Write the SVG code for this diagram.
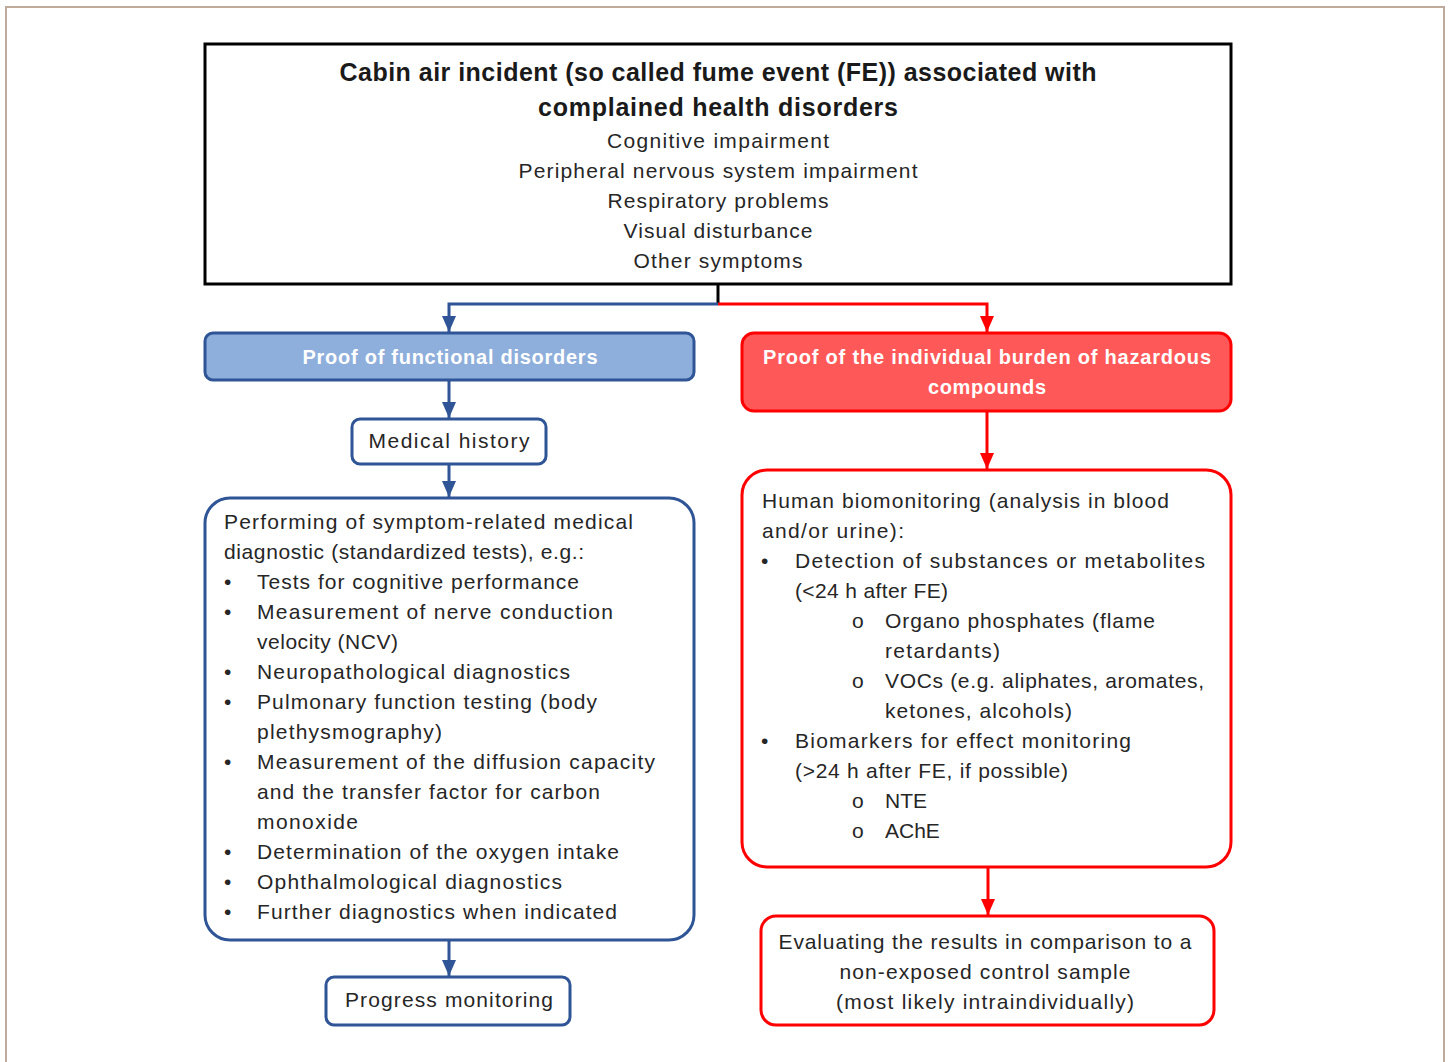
<svg xmlns="http://www.w3.org/2000/svg" width="1449" height="1062" viewBox="0 0 1449 1062">
<defs>
<style>
.t{font-family:"Liberation Sans",Arial,sans-serif;font-size:21px;fill:#262626}
.c{text-anchor:middle}
.b{font-weight:bold;font-size:25px;fill:#1a1a1a}
.w{fill:#ffffff;font-weight:bold;font-size:20px}
.blue{fill:none;stroke:#2f5597;stroke-width:3}
.red{fill:none;stroke:#ff0000;stroke-width:3}
</style>
<marker id="ab" markerUnits="userSpaceOnUse" markerWidth="16" markerHeight="14" refX="16" refY="7" orient="auto"><path d="M0,0 L16,7 L0,14 Z" fill="#2f5597"/></marker>
<marker id="ar" markerUnits="userSpaceOnUse" markerWidth="16" markerHeight="14" refX="16" refY="7" orient="auto"><path d="M0,0 L16,7 L0,14 Z" fill="#ff0000"/></marker>
</defs>
<rect width="1449" height="1062" fill="#ffffff"/>
<path d="M6,1062 V7 H1444 V1062" fill="none" stroke="#bfaa9c" stroke-width="2"/>

<g id="connectors">
<line x1="718" y1="284" x2="718" y2="304" stroke="#000" stroke-width="3"/>
<path class="blue" d="M718,304 H449 V332" marker-end="url(#ab)"/>
<path class="red" d="M718,304 H987 V332" marker-end="url(#ar)"/>
<path class="blue" d="M449,380 V418" marker-end="url(#ab)"/>
<path class="blue" d="M449,464 V497" marker-end="url(#ab)"/>
<path class="blue" d="M449,940 V976" marker-end="url(#ab)"/>
<path class="red" d="M987,411 V469" marker-end="url(#ar)"/>
<path class="red" d="M988,867 V915" marker-end="url(#ar)"/>
</g>

<g id="incident">
<rect x="205" y="44" width="1026" height="240" fill="#fff" stroke="#000" stroke-width="3"/>
<text class="t c b" x="718" y="81" textLength="757" lengthAdjust="spacing">Cabin air incident (so called fume event (FE)) associated with</text>
<text class="t c b" x="718" y="116" textLength="360" lengthAdjust="spacing">complained health disorders</text>
<text class="t c" x="718" y="148" textLength="222" lengthAdjust="spacing">Cognitive impairment</text>
<text class="t c" x="718" y="178" textLength="399" lengthAdjust="spacing">Peripheral nervous  system impairment</text>
<text class="t c" x="718" y="208" textLength="221" lengthAdjust="spacing">Respiratory problems</text>
<text class="t c" x="718" y="238" textLength="189" lengthAdjust="spacing">Visual disturbance</text>
<text class="t c" x="718" y="268" textLength="169" lengthAdjust="spacing">Other symptoms</text>
</g>

<g id="functional">
<rect x="205" y="333" width="489" height="47" rx="8" fill="#8eaedb" stroke="#2f5597" stroke-width="3"/>
<text class="t c w" x="450" y="364" textLength="295" lengthAdjust="spacing">Proof of functional  disorders</text>
</g>

<g id="burden">
<rect x="742" y="333" width="489" height="78" rx="12" fill="#ff5858" stroke="#ff0000" stroke-width="3"/>
<text class="t c w" x="987" y="364" textLength="448" lengthAdjust="spacing">Proof of the individual  burden of hazardous</text>
<text class="t c w" x="987" y="394" textLength="118" lengthAdjust="spacing">compounds</text>
</g>

<g id="medical-history">
<rect x="352" y="419" width="194" height="45" rx="8" fill="#fff" stroke="#2f5597" stroke-width="3"/>
<text class="t c" x="449" y="448" textLength="161" lengthAdjust="spacing">Medical history</text>
</g>

<g id="diagnostics">
<rect x="205" y="498" width="489" height="442" rx="25" fill="#fff" stroke="#2f5597" stroke-width="3"/>
<text class="t" x="224" y="529" textLength="409" lengthAdjust="spacing">Performing of symptom-related medical</text>
<text class="t" x="224" y="559" textLength="360" lengthAdjust="spacing">diagnostic (standardized tests), e.g.:</text>
<g class="t">
<text x="224" y="589">•</text><text x="224" y="619">•</text><text x="224" y="679">•</text><text x="224" y="709">•</text><text x="224" y="769">•</text><text x="224" y="859">•</text><text x="224" y="889">•</text><text x="224" y="919">•</text>
</g>
<text class="t" x="257" y="589" textLength="322" lengthAdjust="spacing">Tests for cognitive performance</text>
<text class="t" x="257" y="619" textLength="356" lengthAdjust="spacing">Measurement  of nerve conduction</text>
<text class="t" x="257" y="649" textLength="141" lengthAdjust="spacing">velocity (NCV)</text>
<text class="t" x="257" y="679" textLength="313" lengthAdjust="spacing">Neuropathological diagnostics</text>
<text class="t" x="257" y="709" textLength="340" lengthAdjust="spacing">Pulmonary function testing (body</text>
<text class="t" x="257" y="739" textLength="185" lengthAdjust="spacing">plethysmography)</text>
<text class="t" x="257" y="769" textLength="398" lengthAdjust="spacing">Measurement  of the diffusion capacity</text>
<text class="t" x="257" y="799" textLength="343" lengthAdjust="spacing">and the transfer factor for carbon</text>
<text class="t" x="257" y="829" textLength="101" lengthAdjust="spacing">monoxide</text>
<text class="t" x="257" y="859" textLength="362" lengthAdjust="spacing">Determination of the oxygen  intake</text>
<text class="t" x="257" y="889" textLength="305" lengthAdjust="spacing">Ophthalmological diagnostics</text>
<text class="t" x="257" y="919" textLength="360" lengthAdjust="spacing">Further  diagnostics when indicated</text>
</g>

<g id="progress">
<rect x="326" y="977" width="244" height="48" rx="8" fill="#fff" stroke="#2f5597" stroke-width="3"/>
<text class="t c" x="449" y="1007" textLength="208" lengthAdjust="spacing">Progress monitoring</text>
</g>

<g id="biomonitoring">
<rect x="742" y="470" width="489" height="397" rx="25" fill="#fff" stroke="#ff0000" stroke-width="3"/>
<text class="t" x="762" y="508" textLength="407" lengthAdjust="spacing">Human biomonitoring (analysis in blood</text>
<text class="t" x="762" y="538" textLength="142" lengthAdjust="spacing">and/or urine):</text>
<g class="t">
<text x="761" y="568">•</text><text x="761" y="748">•</text>
<text x="852" y="628">o</text><text x="852" y="688">o</text><text x="852" y="808">o</text><text x="852" y="838">o</text>
</g>
<text class="t" x="795" y="568" textLength="410" lengthAdjust="spacing">Detection  of  substances  or metabolites</text>
<text class="t" x="795" y="598" textLength="153" lengthAdjust="spacing">(&lt;24 h after FE)</text>
<text class="t" x="885" y="628" textLength="270" lengthAdjust="spacing">Organo phosphates (flame</text>
<text class="t" x="885" y="658" textLength="115" lengthAdjust="spacing">retardants)</text>
<text class="t" x="885" y="688" textLength="319" lengthAdjust="spacing">VOCs (e.g.  aliphates, aromates,</text>
<text class="t" x="885" y="718" textLength="187" lengthAdjust="spacing">ketones,  alcohols)</text>
<text class="t" x="795" y="748" textLength="336" lengthAdjust="spacing">Biomarkers for effect  monitoring</text>
<text class="t" x="795" y="778" textLength="273" lengthAdjust="spacing">(&gt;24 h after FE,  if possible)</text>
<text class="t" x="885" y="808">NTE</text>
<text class="t" x="885" y="838">AChE</text>
</g>

<g id="evaluation">
<rect x="761" y="916" width="453" height="109" rx="15" fill="#fff" stroke="#ff0000" stroke-width="3"/>
<text class="t c" x="985" y="949" textLength="413" lengthAdjust="spacing">Evaluating the results in comparison to a</text>
<text class="t c" x="985" y="979" textLength="291" lengthAdjust="spacing">non-exposed control sample</text>
<text class="t c" x="985" y="1009" textLength="298" lengthAdjust="spacing">(most likely intraindividually)</text>
</g>
</svg>
